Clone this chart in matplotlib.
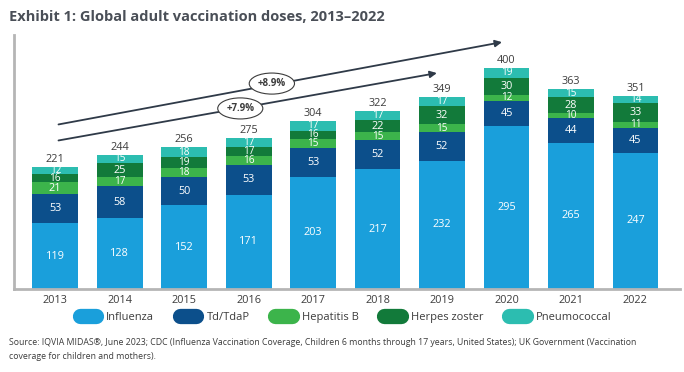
import matplotlib.pyplot as plt
from matplotlib.lines import Line2D
import numpy as np

plt.rcParams['font.family'] = ['Open Sans', 'DejaVu Sans']

years = ['2013', '2014', '2015', '2016', '2017', '2018', '2019', '2020', '2021', '2022']
influenza = [119, 128, 152, 171, 203, 217, 232, 295, 265, 247]
tdtdap = [53, 58, 50, 53, 53, 52, 52, 45, 44, 45]
hepatitis_b = [21, 17, 18, 16, 15, 15, 15, 12, 10, 11]
herpes_zoster = [16, 25, 19, 17, 16, 22, 32, 30, 28, 33]
pneumococcal = [12, 15, 18, 17, 17, 17, 17, 19, 15, 14]
totals = [221, 244, 256, 275, 304, 322, 349, 400, 363, 351]

series = [
    ('Influenza', influenza, '#1a9fdb'),
    ('Td/TdaP', tdtdap, '#0c4f8b'),
    ('Hepatitis B', hepatitis_b, '#3cb44b'),
    ('Herpes zoster', herpes_zoster, '#127a3a'),
    ('Pneumococcal', pneumococcal, '#2cbdb0'),
]

# CAGR arrows: (start x, start y, end x, end y, label x, label y, text)
growth = [
    (0.05, 298, 6.93, 447, 3.36, 372, '+8.9%'),
    (0.05, 269, 5.92, 391, 2.87, 327, '+7.9%'),
]

fig = plt.figure(figsize=(6.84, 3.72), dpi=100)
ax = fig.add_axes([0.0205, 0.223, 0.9735, 0.683])

x = np.arange(len(years))
bottom = np.zeros(len(years))
for name, vals, col in series:
    ax.bar(x, vals, width=0.71, bottom=bottom, color=col, label=name)
    for xi, b, v in zip(x, bottom, vals):
        fs = 7.8 if v >= 20 else 7.2  # thin segments get slightly smaller labels
        ax.text(xi, b + v / 2, str(v), ha='center', va='center',
                color='white', fontsize=fs)
    bottom += np.array(vals)

for xi, b, t in zip(x, bottom, totals):
    ax.text(xi, b + 3, str(t), ha='center', va='bottom', color='#3c3c3c', fontsize=7.8)

for x0, y0, x1, y1, lx, ly, txt in growth:
    ax.annotate('', xy=(x1, y1), xytext=(x0, y0),
                arrowprops=dict(arrowstyle='-|>', color='#2f3a48', lw=1.3,
                                mutation_scale=10, shrinkA=0, shrinkB=0))
    ax.text(lx, ly, txt, ha='center', va='center', fontsize=7, fontweight='bold',
            color='#3c3c3c',
            bbox=dict(boxstyle='ellipse,pad=0.2', fc='white', ec='#3c3c3c', lw=0.8))

ax.set_xlim(-0.64, 9.69)
ax.set_ylim(0, 460)
ax.set_xticks(x)
ax.set_xticklabels(years, fontsize=7.8, color='#3c3c3c')
ax.set_yticks([])
ax.tick_params(axis='x', length=0, pad=4)
for s in ['top', 'right']:
    ax.spines[s].set_visible(False)
for s in ['left', 'bottom']:
    ax.spines[s].set_color('#b5b5b5')
    ax.spines[s].set_linewidth(2)

handles = [Line2D([0], [0], color=c, lw=11, solid_capstyle='round') for _, _, c in series]
fig.legend(handles, [n for n, _, _ in series], loc='center', bbox_to_anchor=(0.505, 0.147),
           ncol=5, frameon=False, fontsize=8, handlelength=1.5, columnspacing=2.3,
           handletextpad=0.9, labelcolor='#3c3c3c')

fig.text(0.013, 0.06,
         'Source: IQVIA MIDAS\u00ae, June 2023; CDC (Influenza Vaccination Coverage, Children 6 months '
         'through 17 years, United States); UK Government (Vaccination\ncoverage for children and mothers).',
         fontsize=6.3, color='#3c3c3c', va='center', linespacing=1.7)
fig.text(0.013, 0.955, 'Exhibit 1: Global adult vaccination doses, 2013\u20132022',
         fontsize=10.5, fontweight='bold', color='#4a4f57', va='center')

fig.savefig('out.png', dpi=100)
